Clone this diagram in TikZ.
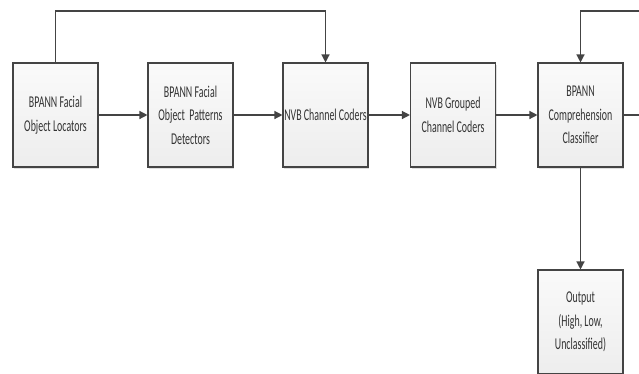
\documentclass[tikz,border=0pt]{standalone}
\usepackage{fontspec}
\newfontfamily\boxfont[FakeStretch=0.6]{Carlito}
\usetikzlibrary{arrows.meta,shadows}
\definecolor{linegray}{HTML}{444444}
\definecolor{textgray}{HTML}{333333}
\tikzset{
  block/.style={draw=linegray,line width=1.1pt,top color=gray!4,bottom color=gray!14,
    minimum width=85pt,minimum height=104pt,inner sep=0pt,align=center,text=textgray,
    font=\boxfont\fontsize{16.5}{23.5}\selectfont,
    drop shadow={shadow xshift=1pt,shadow yshift=-2pt,opacity=0.25}},
  flow/.style={draw=linegray,line width=1.3pt,-{Triangle[length=8pt,width=8pt]}},
  wire/.style={draw=linegray,line width=1.3pt}
}
\begin{document}
\begin{tikzpicture}[x=1pt,y=-1pt]
            \useasboundingbox[fill=white] (0,0) rectangle (639,373);

            % Define blocks
            \node[block] (locators) at (55.5,115) {BPANN Facial\\Object Locators};
            \node[block] (detectors) at (190.5,115) {BPANN Facial\\Object\ \ Patterns\\Detectors};
            \node[block] (coders) at (325.5,115) {NVB Channel Coders};
            \node[block] (grouped) at (453,115) {NVB Grouped\\Channel Coders};
            \node[block] (classifier) at (580.5,115) {BPANN\\Comprehension\\Classifier};
            \node[block] (output) at (580.5,322) {Output\\(High, Low,\\Unclassified)};

            % Corner of the first loop and loose ends at the right border
            \coordinate (loopcorner) at (55.5,11);
            \coordinate (topright) at (640,11);
            \coordinate (midright) at (640,115);

            % Draw the forward flow
            \draw[flow] (locators) -- (detectors);
            \draw[flow] (detectors) -- (coders);
            \draw[flow] (coders) -- (grouped);
            \draw[flow] (grouped) -- (classifier);
            \draw[flow] (classifier) -- (output);

            % Draw the feedback lines
            \draw[flow] (locators.north) -- (loopcorner) -| (coders.north);
            \draw[flow] (topright) -| (classifier.north);
            \draw[wire] (classifier.east) -- (midright);
        \end{tikzpicture}
\end{document}
